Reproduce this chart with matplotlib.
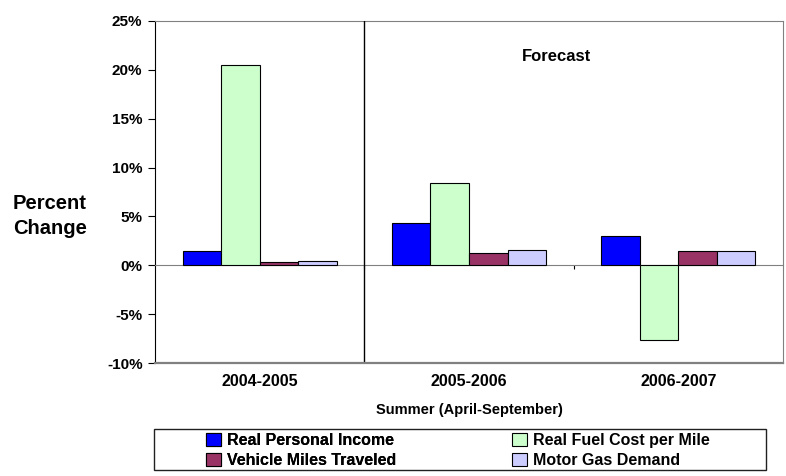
import matplotlib
matplotlib.use("Agg")
import matplotlib.pyplot as plt
import matplotlib.transforms as mtransforms
from matplotlib.patches import Rectangle
import numpy as np

plt.rcParams['font.family'] = ['Liberation Sans', 'DejaVu Sans']
plt.rcParams['font.weight'] = 'bold'

# Data (percent change, summer April-September)
periods = ['2004-2005', '2005-2006', '2006-2007']
income = [1.43, 4.33, 2.97]
fuel_cost = [20.45, 8.38, -7.67]
vmt = [0.34, 1.23, 1.47]
gas_demand = [0.41, 1.53, 1.47]

series_names = ['Real Personal Income', 'Real Fuel Cost per Mile',
                'Vehicle Miles Traveled', 'Motor Gas Demand']
colors = ['#0000FF', '#CCFFCC', '#993366', '#CCCCFF']
yticks = [-10, -5, 0, 5, 10, 15, 20, 25]

W, H = 786, 476
fig = plt.figure(figsize=(W / 100, H / 100), dpi=100)
ax = fig.add_axes([155 / W, 1 - 363.3 / H, (783 - 155) / W, (363.3 - 20.7) / H])

x = np.arange(len(periods))
w = 0.184
all_series = [income, fuel_cost, vmt, gas_demand]
handles = []
for i, vals in enumerate(all_series):
    b = ax.bar(x + (i - 1.5) * w, vals, w, color=colors[i],
               edgecolor='black', linewidth=0.8, zorder=3)
    handles.append(b)

ax.set_xlim(-0.5, len(periods) - 0.5)
ax.set_ylim(-10, 25)
ax.set_yticks(yticks)
ax.set_yticklabels([f'{t}%' for t in yticks], fontsize=11, fontweight='bold')
ax.tick_params(axis='y', direction='out', length=5, width=0.8, color='black', pad=4)

# plot area border: left black, others gray
for s in ['top', 'right']:
    ax.spines[s].set_color('#808080')
ax.spines['left'].set_color('black')
ax.spines['bottom'].set_position(('data', 0))
ax.spines['bottom'].set_color('#808080')
ax.axhline(-10, color='#808080', lw=1.6, clip_on=False, zorder=5)

# category boundary ticks on the zero line
ax.set_xticks([])
ax.set_xticks(np.arange(0.5, len(periods) - 0.5, 1.0), minor=True)
ax.tick_params(axis='x', which='minor', direction='out', length=3, width=0.8,
               color='black', labelbottom=False)

# category labels under the plot
trans = mtransforms.blended_transform_factory(ax.transData, ax.transAxes)
for xi, p in zip(x, periods):
    ax.text(xi, -0.052, p, transform=trans, ha='center', va='center',
            fontsize=11.5, fontweight='bold')
ax.text(0.5, -0.137, 'Summer (April-September)', transform=ax.transAxes,
        ha='center', va='center', fontsize=10.5, fontweight='bold')

# history / forecast separator
ax.axvline(0.5, color='black', lw=1.0, zorder=4)
ax.text(1.42, 21.3, 'Forecast', ha='center', va='center',
        fontsize=12, fontweight='bold')

fig.text(50 / W, 1 - 216 / H, 'Percent\nChange', ha='center', va='center',
         fontsize=14.5, fontweight='bold', linespacing=1.35)

# legend: frame box plus two columns
fig.patches.append(Rectangle((154 / W, 1 - 470 / H), (766 - 154) / W, 41 / H,
                             transform=fig.transFigure, fill=False,
                             edgecolor='#202020', linewidth=1.0))
leg_kw = dict(loc='upper left', frameon=False, prop={'weight': 'bold', 'size': 11.5},
              handlelength=0.95, handleheight=0.85, handletextpad=0.35,
              labelspacing=0.3, borderpad=0, borderaxespad=0)
leg1 = fig.legend([handles[0], handles[2]], [series_names[0], series_names[2]],
                  bbox_to_anchor=(206 / W, 1 - 433 / H), **leg_kw)
fig.add_artist(leg1)
fig.legend([handles[1], handles[3]], [series_names[1], series_names[3]],
           bbox_to_anchor=(512 / W, 1 - 433 / H), **leg_kw)

fig.savefig('out.png', dpi=100)
